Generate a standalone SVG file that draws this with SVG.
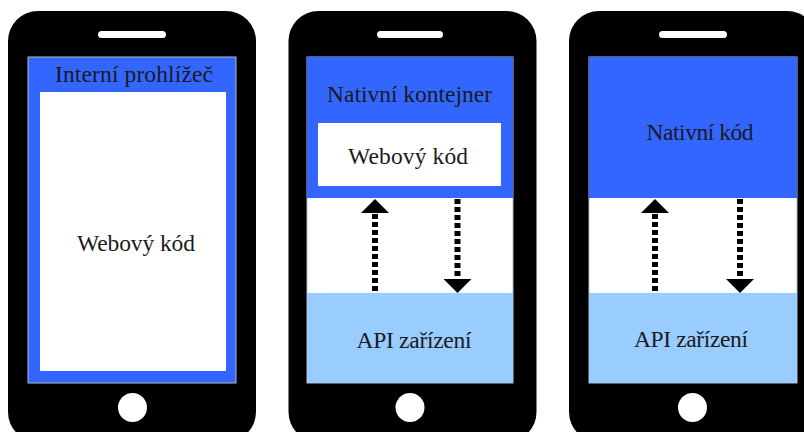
<svg xmlns="http://www.w3.org/2000/svg" width="804" height="432" viewBox="0 0 804 432">
  <style>
    .body { fill: #000000; }
    .speaker, .button { fill: #ffffff; }
    .screen { stroke: #b3bccb; stroke-width: 1; }
    .native { fill: #3366ff; }
    .api { fill: #99ccff; }
    .web { fill: #ffffff; }
    .label { font-family: "Liberation Serif", "DejaVu Serif", serif; font-size: 23.5px; fill: #1a1a22; text-anchor: middle; }
    .flow { stroke: #000000; stroke-width: 6; stroke-dasharray: 5 3; fill: none; }
  </style>
  <defs>
    <marker id="head" viewBox="0 0 14 28" markerWidth="14" markerHeight="28" refX="0" refY="14" orient="auto" markerUnits="userSpaceOnUse">
      <path d="M0,0 L14,14 L0,28 Z" fill="#000000"/>
    </marker>
  </defs>

  <rect width="804" height="432" fill="#ffffff"/>

  <!-- Phone 1: in-app browser -->
  <g id="phone-browser">
    <rect class="body" x="8" y="11" width="248" height="431" rx="30"/>
    <rect class="speaker" x="98" y="31" width="68" height="7" rx="3.5"/>
    <circle class="button" cx="132.5" cy="407.5" r="14.5"/>
    <rect class="screen native" x="28" y="57" width="208" height="326"/>
    <rect class="web" x="40" y="92" width="186" height="279"/>
    <text class="label" x="134" y="82" textLength="158">Interní prohlížeč</text>
    <text class="label" x="136" y="251" textLength="118">Webový kód</text>
  </g>

  <!-- Phone 2: native container with web code -->
  <g id="phone-hybrid">
    <rect class="body" x="288.5" y="11" width="248" height="431" rx="30"/>
    <rect class="speaker" x="377" y="31" width="66" height="7" rx="3.5"/>
    <circle class="button" cx="410" cy="407.5" r="14.5"/>
    <rect class="screen web" x="307" y="57" width="206" height="326"/>
    <rect class="native" x="307" y="57" width="206" height="141"/>
    <rect class="api" x="307" y="293" width="206" height="90"/>
    <rect class="web" x="318" y="123" width="183" height="63"/>
    <text class="label" x="409.5" y="102" textLength="165">Nativní kontejner</text>
    <text class="label" x="408" y="164" textLength="120">Webový kód</text>
    <text class="label" x="414" y="348" textLength="115">API zařízení</text>
  </g>

  <!-- Phone 3: native code -->
  <g id="phone-native">
    <rect class="body" x="569" y="11" width="248" height="431" rx="30"/>
    <rect class="speaker" x="659" y="31" width="68" height="7" rx="3.5"/>
    <circle class="button" cx="692.5" cy="407.5" r="14.5"/>
    <rect class="screen web" x="589" y="57" width="208" height="326"/>
    <rect class="native" x="589" y="57" width="208" height="141"/>
    <rect class="api" x="589" y="293" width="208" height="90"/>
    <text class="label" x="700" y="140" textLength="107">Nativní kód</text>
    <text class="label" x="691" y="347" textLength="114">API zařízení</text>
  </g>

  <!-- Calls between code and device API -->
  <g id="connectors">
    <line class="flow" x1="375" y1="291" x2="375" y2="213" marker-end="url(#head)"/>
    <line class="flow" x1="457.5" y1="199" x2="457.5" y2="279" marker-end="url(#head)"/>
    <line class="flow" x1="655" y1="291" x2="655" y2="213" marker-end="url(#head)"/>
    <line class="flow" x1="740" y1="199" x2="740" y2="279" marker-end="url(#head)"/>
  </g>
</svg>
